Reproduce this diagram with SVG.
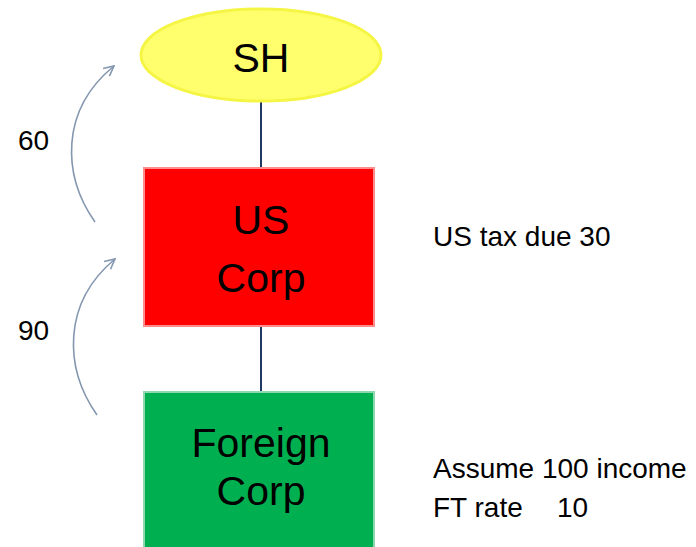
<svg xmlns="http://www.w3.org/2000/svg" width="696" height="547" viewBox="0 0 696 547">
<style>
text{font-family:"Liberation Sans",Arial,sans-serif;fill:#000}
.big{font-size:41px;text-anchor:middle}
.lbl{font-size:28px}
.flow{fill:none;stroke:#8497B0;stroke-width:1.6}
.link{stroke:#1F3864;stroke-width:2}
</style>
<defs>
<marker id="open" viewBox="0 0 12 12" refX="11" refY="6" markerWidth="12" markerHeight="12" markerUnits="userSpaceOnUse" orient="auto">
<path d="M1,1 L11,6 L1,11" fill="none" stroke="#8497B0" stroke-width="1.6"/>
</marker>
</defs>
<rect width="696" height="547" fill="#fff"/>
<g id="connectors">
<line class="link" x1="261" y1="101" x2="261" y2="168"/>
<line class="link" x1="261" y1="326" x2="261" y2="392"/>
<path class="flow" d="M95,222 C62,175 60,110 114,66" marker-end="url(#open)"/>
<path class="flow" d="M97,415 C64,368 62,303 115,259" marker-end="url(#open)"/>
</g>
<g id="sh">
<ellipse cx="261" cy="55" rx="120" ry="46" fill="#FFFF6E" stroke="#F5F545" stroke-width="3"/>
<text class="big" x="261" y="72">SH</text>
</g>
<g id="uscorp">
<rect x="144" y="168" width="230" height="158" fill="#FF0000" stroke="#FF8C8C" stroke-width="2"/>
<text class="big" x="261" y="234">US</text>
<text class="big" x="261" y="292">Corp</text>
</g>
<g id="foreigncorp">
<rect x="144" y="392" width="230" height="170" fill="#00B050" stroke="#8ED8B0" stroke-width="2"/>
<text class="big" x="261" y="457">Foreign</text>
<text class="big" x="261" y="505">Corp</text>
</g>
<g id="labels">
<text class="lbl" x="18" y="150">60</text>
<text class="lbl" x="18" y="340">90</text>
<text class="lbl" x="433" y="246">US tax due 30</text>
<text class="lbl" x="433" y="478">Assume 100 income</text>
<text class="lbl" x="433" y="517">FT rate<tspan x="557">10</tspan></text>
</g>
</svg>
